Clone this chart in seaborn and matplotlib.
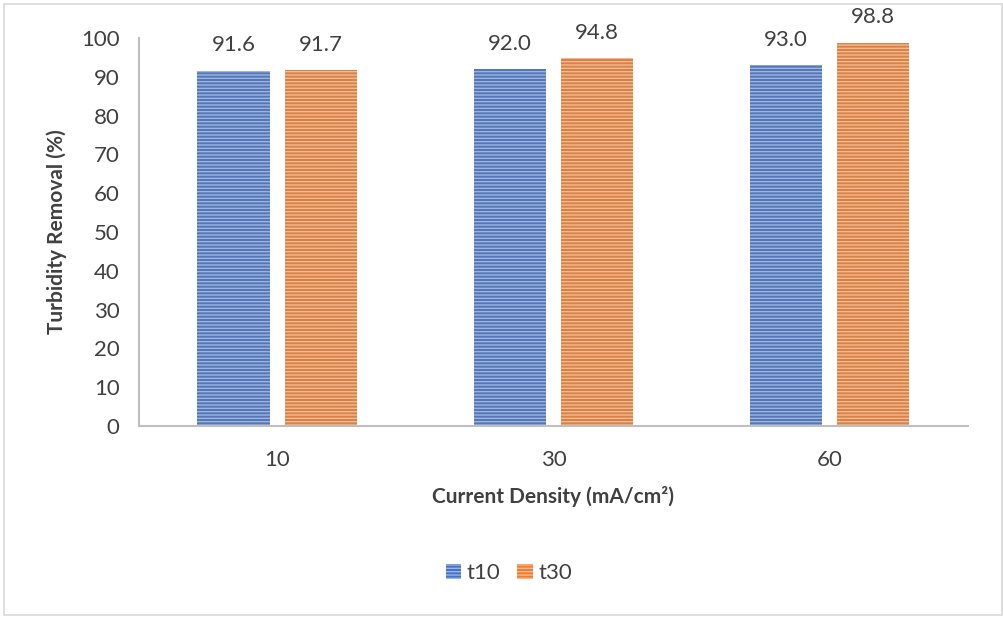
import matplotlib
matplotlib.use("Agg")
import matplotlib.pyplot as plt
import seaborn as sns
import pandas as pd
from matplotlib.patches import Rectangle

# Data
densities = ["10", "30", "60"]
t10 = [91.6, 92.0, 93.0]
t30 = [91.7, 94.8, 98.8]
series_names = ["t10", "t30"]
y_ticks = [0, 10, 20, 30, 40, 50, 60, 70, 80, 90, 100]

df = pd.DataFrame({
    "density": densities * 2,
    "value": t10 + t30,
    "series": ["t10"] * len(densities) + ["t30"] * len(densities),
})

sns.set_theme(style="white")
plt.rcParams["font.family"] = ["Lato", "DejaVu Sans"]
plt.rcParams["hatch.linewidth"] = 1.0

base_colors = {"t10": "#4472C4", "t30": "#ED7D31"}
stripe_colors = {"t10": "#9DB5E3", "t30": "#F7B98D"}
text_color = "#404040"

fig = plt.figure(figsize=(10.04, 6.19), dpi=100)
ax = fig.add_axes([0.1384, 0.3118, 0.8256, 0.6268])

sns.barplot(data=df, x="density", y="value", hue="series", order=densities,
            hue_order=series_names, palette=base_colors, width=0.63, gap=0.17,
            ax=ax, legend=False)

for container, name in zip(ax.containers, series_names):
    for bar in container:
        bar.set_hatch("-----")
        bar.set_edgecolor(stripe_colors[name])
        bar.set_linewidth(0)
    ax.bar_label(container, fmt="%.1f", padding=11, fontsize=16, color=text_color)

ax.set_ylim(0, 100)
ax.set_yticks(y_ticks)
ax.tick_params(axis="both", length=0, labelsize=16, labelcolor=text_color)
ax.tick_params(axis="y", pad=14)
ax.tick_params(axis="x", pad=17)
ax.set_xlabel("Current Density (mA/cm²)", fontsize=15, fontweight="bold",
              color=text_color, labelpad=12)
ax.set_ylabel("Turbidity Removal (%)", fontsize=15, fontweight="bold",
              color=text_color, labelpad=10)

for side in ["top", "right"]:
    ax.spines[side].set_visible(False)
for side in ["left", "bottom"]:
    ax.spines[side].set_color("#BFBFBF")
    ax.spines[side].set_linewidth(1.5)

# Legend with striped swatches
handles = [Rectangle((0, 0), 1, 1, facecolor=base_colors[n], edgecolor=stripe_colors[n],
                     linewidth=0, hatch="-----") for n in series_names]
fig.legend(handles, series_names, loc="center", bbox_to_anchor=(0.507, 0.074), ncol=2,
           frameon=False, fontsize=16, handlelength=0.7, handleheight=0.7,
           handletextpad=0.25, columnspacing=0.75, labelcolor=text_color)

# Outer chart border
fig.patches.append(Rectangle((0.004, 0.006), 0.994, 0.988, transform=fig.transFigure,
                             fill=False, edgecolor="#D9D9D9", linewidth=1.2))

fig.savefig("out.png", dpi=100)
